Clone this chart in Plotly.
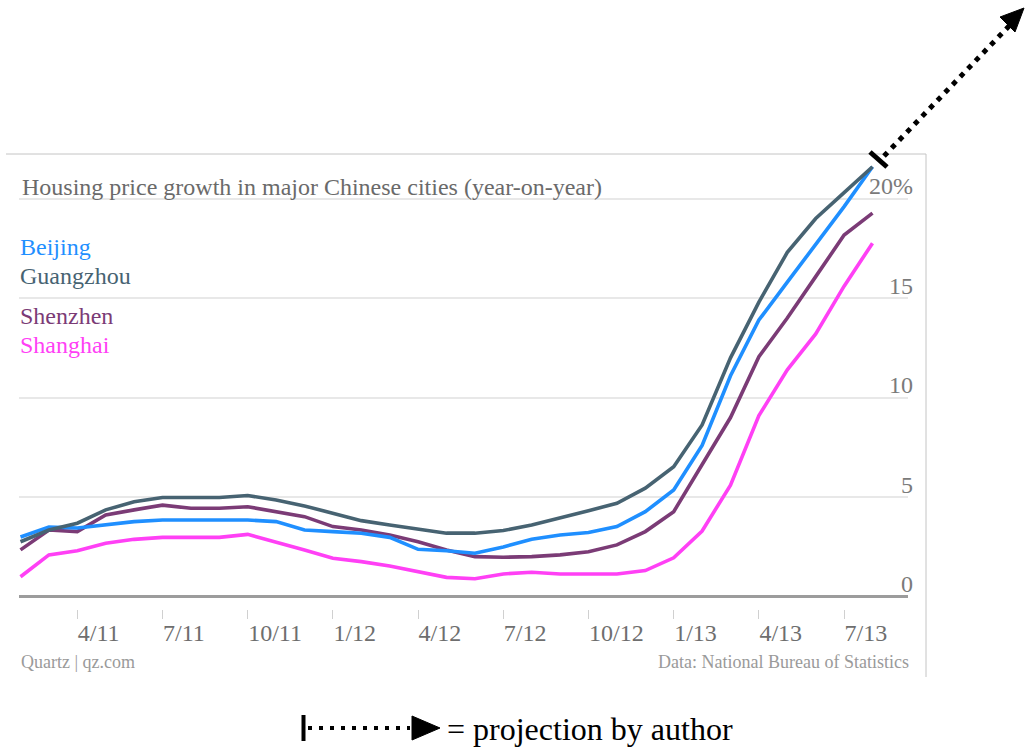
import plotly.graph_objects as go

# ---------------- data ----------------
months = ["2011-02", "2011-03", "2011-04", "2011-05", "2011-06", "2011-07", "2011-08",
          "2011-09", "2011-10", "2011-11", "2011-12", "2012-01", "2012-02", "2012-03",
          "2012-04", "2012-05", "2012-06", "2012-07", "2012-08", "2012-09", "2012-10",
          "2012-11", "2012-12", "2013-01", "2013-02", "2013-03", "2013-04", "2013-05",
          "2013-06", "2013-07", "2013-08"]

beijing = [3.0, 3.5, 3.45, 3.6, 3.77, 3.85, 3.85, 3.85, 3.85, 3.77, 3.35, 3.27, 3.19, 2.98,
           2.38, 2.31, 2.18, 2.5, 2.88, 3.1, 3.22, 3.52, 4.27, 5.36, 7.6, 11.1, 13.9, 15.8,
           17.7, 19.6, 21.6]
guangzhou = [2.76, 3.35, 3.69, 4.36, 4.77, 4.98, 4.98, 4.98, 5.08, 4.86, 4.56, 4.19, 3.82, 3.6,
             3.39, 3.19, 3.19, 3.32, 3.6, 3.94, 4.32, 4.69, 5.45, 6.53, 8.63, 12.0, 14.8, 17.3,
             19.0, 20.3, 21.6]
shenzhen = [2.35, 3.35, 3.27, 4.1, 4.36, 4.6, 4.44, 4.44, 4.52, 4.27, 4.02, 3.52, 3.35, 3.1,
            2.76, 2.35, 2.01, 1.98, 2.01, 2.1, 2.26, 2.6, 3.27, 4.27, 6.62, 9.0, 12.06, 14.0,
            16.08, 18.17, 19.27]
shanghai = [1.0, 2.1, 2.31, 2.68, 2.88, 2.98, 2.98, 2.98, 3.13, 2.76, 2.35, 1.93, 1.76, 1.54,
            1.26, 0.97, 0.9, 1.14, 1.23, 1.14, 1.14, 1.14, 1.31, 1.95, 3.3, 5.6, 9.1, 11.4,
            13.2, 15.6, 17.76]

x_tickvals = ["2011-04", "2011-07", "2011-10", "2012-01", "2012-04", "2012-07", "2012-10",
              "2013-01", "2013-04", "2013-07"]
x_ticktext = ["4/11", "7/11", "10/11", "1/12", "4/12", "7/12", "10/12", "1/13", "4/13", "7/13"]
y_tickvals = [0, 5, 10, 15, 20]
y_ticktext = ["0", "5", "10", "15", "20%"]

series = [("Beijing", beijing, "#1f8fff"),
          ("Guangzhou", guangzhou, "#476372"),
          ("Shenzhen", shenzhen, "#7b3b76"),
          ("Shanghai", shanghai, "#ff40f5")]

# ---------------- layout geometry ----------------
W, H = 1026, 748
L, R, T, B = 19, 908, 160, 609
PW, PH = R - L, B - T
SERIF = "Liberation Serif, Times New Roman, serif"


def px(x):
    return (x - L) / PW


def py(y):
    return (B - y) / PH


fig = go.Figure()
# draw order: Guangzhou on top, as in the reference
for name, vals, col in [series[3], series[2], series[0], series[1]]:
    fig.add_trace(go.Scatter(x=months, y=vals, mode="lines", name=name,
                             line=dict(color=col, width=3.6), showlegend=False,
                             hoverinfo="skip"))

annotations = []
# title
annotations.append(dict(text="Housing price growth in major Chinese cities (year-on-year)",
                        x=px(20), y=py(187), xref="paper", yref="paper", xanchor="left",
                        yanchor="middle", showarrow=False,
                        font=dict(family=SERIF, size=24, color="#6a6a6a")))
# legend labels
leg_y = {"Beijing": 247, "Guangzhou": 276, "Shenzhen": 316, "Shanghai": 345}
for name, vals, col in series:
    annotations.append(dict(text=name, x=px(18), y=py(leg_y[name]), xref="paper", yref="paper",
                            xanchor="left", yanchor="middle", showarrow=False,
                            font=dict(family=SERIF, size=24, color=col)))
# footer
annotations.append(dict(text="Quartz | qz.com", x=px(19), y=py(662), xref="paper", yref="paper",
                        xanchor="left", yanchor="middle", showarrow=False,
                        font=dict(family=SERIF, size=18, color="#9a9a9a")))
annotations.append(dict(text="Data: National Bureau of Statistics", x=px(911), y=py(662),
                        xref="paper", yref="paper", xanchor="right", yanchor="middle",
                        showarrow=False, font=dict(family=SERIF, size=18, color="#9a9a9a")))
# projection note
annotations.append(dict(text="= projection by author", x=px(445), y=py(729), xref="paper",
                        yref="paper", xanchor="left", yanchor="middle", showarrow=False,
                        font=dict(family=SERIF, size=32, color="#000000")))

shapes = []
# frame (top and right edges)
shapes.append(dict(type="line", xref="paper", yref="paper", x0=px(6), x1=px(926),
                   y0=py(154), y1=py(154), line=dict(color="#c4c4c4", width=1)))
shapes.append(dict(type="line", xref="paper", yref="paper", x0=px(926), x1=px(926),
                   y0=py(154), y1=py(677), line=dict(color="#c4c4c4", width=1)))

# projection arrow (top right)
shapes.append(dict(type="line", xref="paper", yref="paper", x0=px(884), y0=py(156),
                   x1=px(1010), y1=py(25), line=dict(color="black", width=5, dash="5px,6px")))
shapes.append(dict(type="line", xref="paper", yref="paper", x0=px(870), y0=py(152),
                   x1=px(887), y1=py(167), line=dict(color="black", width=5)))
tip = (1024, 8)
b1 = (1015, 32)
b2 = (1000, 17)
shapes.append(dict(type="path", xref="paper", yref="paper",
                   path="M {} {} L {} {} L {} {} Z".format(px(tip[0]), py(tip[1]), px(b1[0]),
                                                         py(b1[1]), px(b2[0]), py(b2[1])),
                   fillcolor="black", line=dict(color="black", width=1)))

# projection legend symbol (bottom)
shapes.append(dict(type="line", xref="paper", yref="paper", x0=px(303.5), x1=px(303.5),
                   y0=py(715), y1=py(741), line=dict(color="black", width=4)))
shapes.append(dict(type="line", xref="paper", yref="paper", x0=px(308), x1=px(410),
                   y0=py(728), y1=py(728), line=dict(color="black", width=4, dash="4px,7px")))
shapes.append(dict(type="path", xref="paper", yref="paper",
                   path="M {} {} L {} {} L {} {} Z".format(px(412), py(716), px(412), py(740),
                                                         px(440), py(728)),
                   fillcolor="black", line=dict(color="black", width=1)))

fig.update_layout(
    width=W, height=H,
    margin=dict(l=L, r=W - R, t=T, b=H - B, pad=0),
    paper_bgcolor="white", plot_bgcolor="white",
    showlegend=False,
    annotations=annotations,
    shapes=shapes,
    xaxis=dict(type="category", range=[-0.053, 31.25], tickvals=x_tickvals,
               ticktext=x_ticktext, ticks="outside", ticklen=9, tickwidth=1,
               tickcolor="#d0d0d0", ticklabelposition="outside right",
               ticklabelstandoff=2,
               showgrid=False, showline=False, zeroline=False,
               tickfont=dict(family=SERIF, size=24, color="#6e6e6e")),
    yaxis=dict(side="right", range=[-0.62, 21.94], tickvals=y_tickvals, ticktext=y_ticktext,
               ticks="", showgrid=True, gridcolor="#e8e8e8", gridwidth=1.5,
               zeroline=True, zerolinecolor="#9c9c9c", zerolinewidth=2.5,
               showline=False, ticklabelposition="inside", ticklabelstandoff=-8,
               ticklabelshift=-13,
               tickfont=dict(family=SERIF, size=24, color="#7a7a7a")),
)

fig.write_html("out.html", config={"displayModeBar": False},
               post_script="document.body.style.margin='0';document.body.style.overflow='hidden';")
